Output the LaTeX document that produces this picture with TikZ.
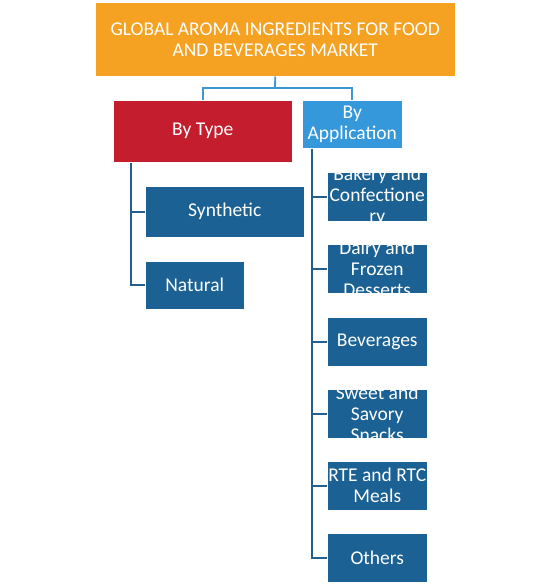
\documentclass[tikz,border=0pt]{standalone}
\usepackage{fontspec}
\setmainfont{Carlito}
\definecolor{titleorange}{HTML}{F5A122}
\definecolor{typered}{HTML}{C41E2E}
\definecolor{appblue}{HTML}{3498DB}
\definecolor{segblue}{HTML}{1B6193}
\definecolor{linkblue}{HTML}{3D97D3}
\definecolor{branchblue}{HTML}{255F8E}

\begin{document}
\begin{tikzpicture}[x=1pt,y=-1pt,
  box/.style={draw=white,line width=0.5pt,inner sep=0pt,anchor=north west,text=white,align=center,font=\fontsize{19.5}{21}\selectfont},
  segbox/.style={box,fill=segblue},
  boxtext/.style={inner sep=0pt,text=white,align=center,font=\fontsize{19.5}{21}\selectfont},
  link/.style={draw=linkblue,line width=1.8pt},
  branch/.style={draw=branchblue,line width=1.8pt}]
\useasboundingbox (0,0) rectangle (546,584);

\node[box,fill=titleorange,minimum width=360pt,minimum height=74pt] (title) at (95,2) {GLOBAL AROMA INGREDIENTS FOR FOOD\\AND BEVERAGES MARKET};
\node[box,fill=typered,minimum width=179pt,minimum height=62pt] (bytype) at (113,100) {By Type};
\node[box,fill=appblue,minimum width=100pt,minimum height=48pt] (byapp) at (302,100) {By\\Application};

\node[segbox,minimum width=159pt,minimum height=51pt] (synthetic) at (145,186) {Synthetic};
\node[segbox,minimum width=99pt,minimum height=48pt] (natural) at (145,261) {Natural};

\foreach \n/\y/\t in {bakery/172/{Bakery and\\Confectione\\ry},dairy/244/{Dairy and\\Frozen\\Desserts},beverages/317/{Beverages},snacks/389/{Sweet and\\Savory\\Snacks},meals/461/{RTE and RTC\\Meals},others/533/{Others}} {
  \node[segbox,minimum width=100pt,minimum height=49pt] (\n) at (327,\y) {};
  \node[boxtext] (\n-text) at (\n) {\t};
}

\coordinate (split) at (275,88);
\draw[link] (title.south) -- (split);
\draw[link] (bytype.north) |- (split) -| (byapp.north);

\coordinate (typex) at (131,0);
\coordinate (typetrunk) at (bytype.south -| typex);
\draw[branch] (typetrunk) |- (natural.west);
\draw[branch] (typetrunk |- synthetic.west) -- (synthetic.west);

\coordinate (appx) at (312,0);
\coordinate (apptrunk) at (byapp.south -| appx);
\draw[branch] (apptrunk) |- (others.west);
\foreach \n in {bakery,dairy,beverages,snacks,meals} {
  \draw[branch] (apptrunk |- \n.west) -- (\n.west);
}
\end{tikzpicture}
\end{document}
